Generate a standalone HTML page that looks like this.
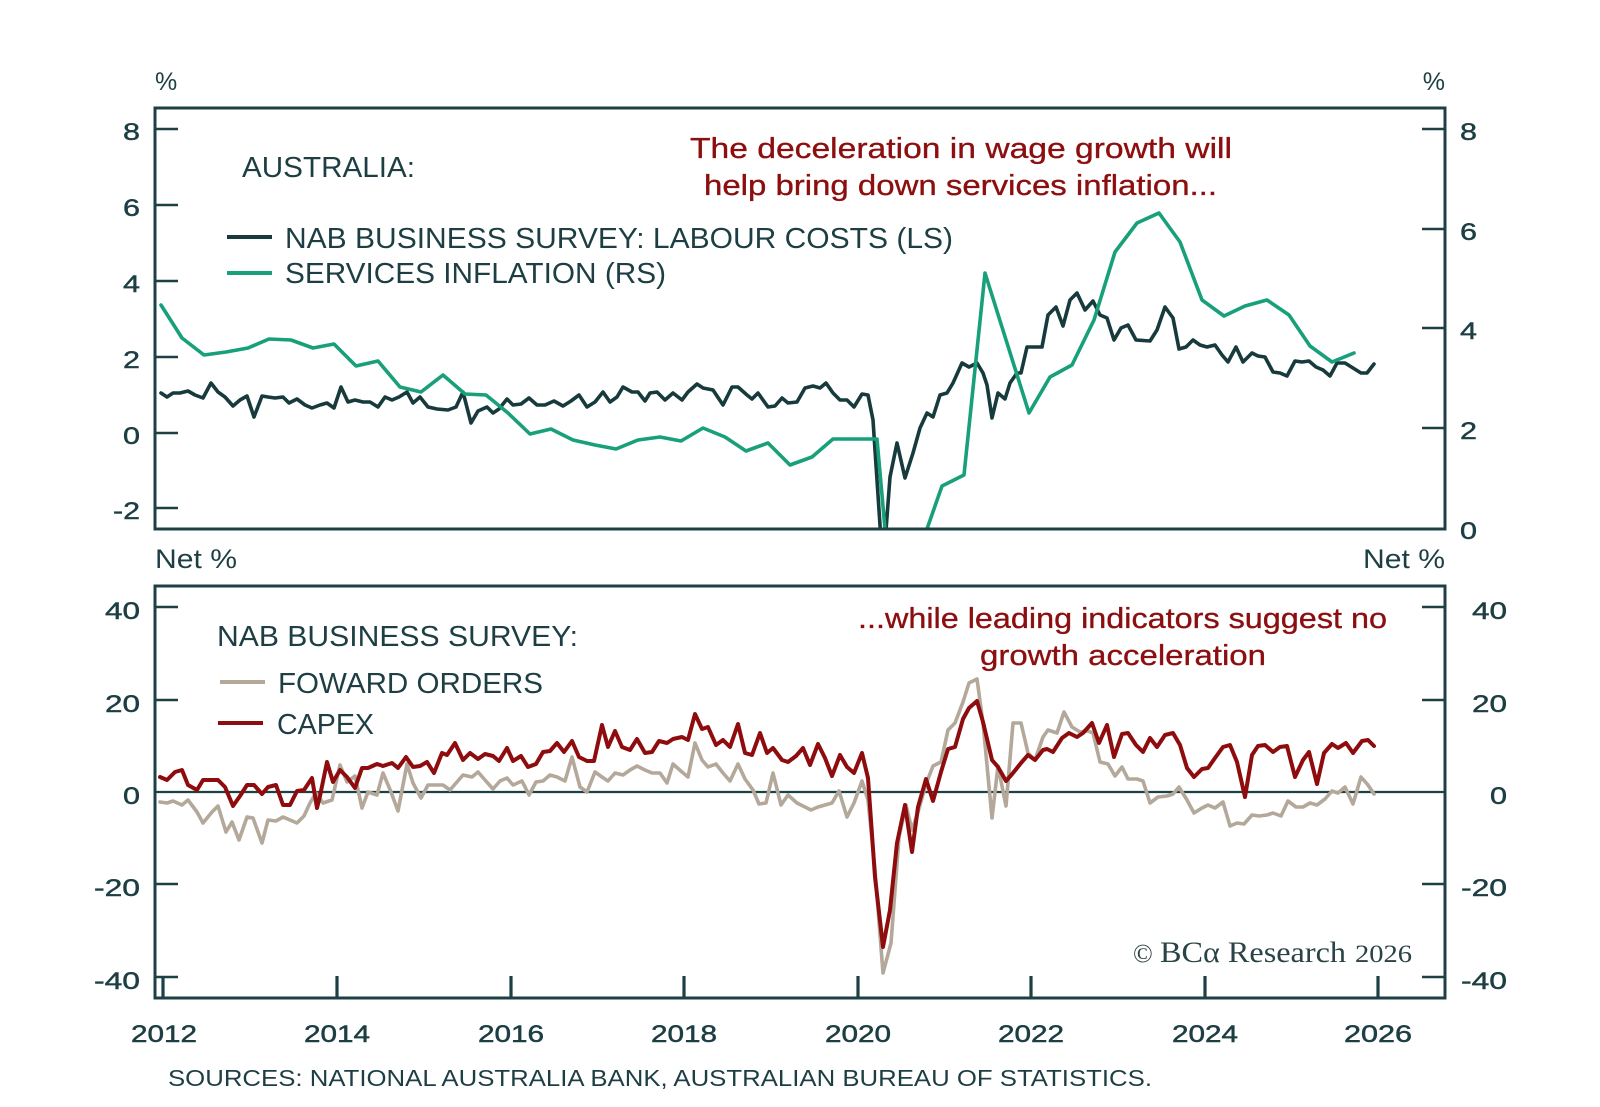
<!DOCTYPE html>
<html>
<head>
<meta charset="utf-8">
<style>
  html,body{margin:0;padding:0;background:#fff;}
  svg{display:block;}
  text{font-family:"Liberation Sans",Arial,sans-serif;fill:#1d3f43;}
  .tick{font-size:24px;stroke:#1d3f43;stroke-width:0.45;}
  .yr{font-size:24px;stroke:#1d3f43;stroke-width:0.5;}
  .leg{font-size:29px;}
  .ann{font-size:29px;fill:#8c0f10;stroke:#8c0f10;stroke-width:0.35;}
</style>
</head>
<body>
<svg width="1600" height="1107" viewBox="0 0 1600 1107" xmlns="http://www.w3.org/2000/svg">
<defs>
  <clipPath id="cTop"><rect x="155" y="108" width="1290" height="421"/></clipPath>
  <clipPath id="cBot"><rect x="155" y="586" width="1290" height="412"/></clipPath>
</defs>
<rect width="1600" height="1107" fill="#fff"/>

<!-- ===== TOP PANEL ===== -->
<text x="155" y="90" style="font-size:25px">%</text>
<text x="1445" y="90" text-anchor="end" style="font-size:25px">%</text>

<g stroke="#1d4045" stroke-width="2.5">
  <line x1="155" y1="129" x2="178" y2="129"/>
  <line x1="155" y1="205" x2="178" y2="205"/>
  <line x1="155" y1="281" x2="178" y2="281"/>
  <line x1="155" y1="357" x2="178" y2="357"/>
  <line x1="155" y1="433" x2="178" y2="433"/>
  <line x1="155" y1="508" x2="178" y2="508"/>
  <line x1="1422" y1="129" x2="1445" y2="129"/>
  <line x1="1422" y1="229" x2="1445" y2="229"/>
  <line x1="1422" y1="328" x2="1445" y2="328"/>
  <line x1="1422" y1="428" x2="1445" y2="428"/>
  <line x1="1422" y1="529" x2="1445" y2="529"/>
</g>
<g class="tick">
  <text x="123" y="140" textLength="17" lengthAdjust="spacingAndGlyphs">8</text>
  <text x="123" y="216" textLength="17" lengthAdjust="spacingAndGlyphs">6</text>
  <text x="123" y="292" textLength="17" lengthAdjust="spacingAndGlyphs">4</text>
  <text x="123" y="368" textLength="17" lengthAdjust="spacingAndGlyphs">2</text>
  <text x="123" y="444" textLength="17" lengthAdjust="spacingAndGlyphs">0</text>
  <text x="113" y="519" textLength="27" lengthAdjust="spacingAndGlyphs">-2</text>
</g>
<g class="tick">
  <text x="1460" y="140" textLength="17" lengthAdjust="spacingAndGlyphs">8</text>
  <text x="1460" y="240" textLength="17" lengthAdjust="spacingAndGlyphs">6</text>
  <text x="1460" y="339" textLength="17" lengthAdjust="spacingAndGlyphs">4</text>
  <text x="1460" y="439" textLength="17" lengthAdjust="spacingAndGlyphs">2</text>
  <text x="1460" y="539" textLength="17" lengthAdjust="spacingAndGlyphs">0</text>
</g>

<g clip-path="url(#cTop)" fill="none" stroke-linejoin="round" stroke-linecap="round">
  <polyline stroke="#173a3d" stroke-width="3.6" points="161,393 167,397 173,393 180,393 188,391 195,395 203,398 211,383 218,392 225,397 233,406 240,400 247,396 254,417 262,396 268,397 275,398 283,397 289,403 297,399 305,405 312,408 320,405 327,403 334,408 341,387 348,402 355,400 363,402 370,402 378,407 385,397 392,400 399,397 407,392 413,403 420,397 428,407 437,409 448,410 456,407 463,392 471,423 478,411 487,407 493,413 499,409 507,399 513,405 521,404 529,398 537,405 545,405 554,401 563,406 571,401 579,395 587,407 595,402 603,392 610,402 617,397 623,387 632,392 638,392 645,401 650,393 657,392 665,400 673,393 682,400 688,392 697,384 703,388 713,390 723,405 732,387 738,387 747,395 752,399 758,393 768,407 775,406 782,398 788,403 797,402 805,388 813,386 820,388 826,383 833,393 840,400 847,400 854,407 862,394 868,395 873,420 883,570 890,477 897,443 905,478 913,453 920,428 927,413 933,417 940,395 947,393 953,383 962,363 969,367 977,363 983,373 987,385 992,418 998,393 1005,399 1010,383 1017,373 1021,373 1027,347 1033,347 1042,347 1048,315 1056,307 1063,326 1070,300 1077,293 1085,310 1093,301 1100,315 1107,318 1114,340 1121,328 1128,325 1136,340 1150,341 1157,330 1165,307 1173,318 1179,349 1186,347 1193,340 1200,345 1207,347 1215,345 1222,355 1228,362 1236,347 1243,362 1252,353 1258,356 1265,357 1273,372 1280,373 1287,376 1295,361 1302,362 1309,361 1316,367 1323,370 1330,376 1337,363 1345,363 1353,368 1361,373 1367,373 1374,364"/>
  <polyline stroke="#17a07a" stroke-width="3.6" points="161,305 182,338 204,355 226,352 248,348 269,339 291,340 313,348 334,344 356,366 378,361 400,387 421,392 443,375 465,394 486,395 508,413 530,434 551,429 573,440 595,445 616,449 638,440 660,437 681,441 703,428 725,437 746,451 768,443 790,465 812,457 833,439 855,439 877,439 898,675 920,549 942,486 964,475 985,273 1007,343 1029,413 1050,377 1072,365 1094,320 1115,252 1137,223 1159,213 1180,242 1202,300 1224,316 1245,306 1267,300 1289,315 1310,346 1332,362 1354,353"/>
</g>
<rect x="155" y="108" width="1290" height="421" fill="none" stroke="#1d4045" stroke-width="3"/>

<!-- legend top -->
<text class="leg" x="242" y="177" textLength="173" lengthAdjust="spacingAndGlyphs">AUSTRALIA:</text>
<line x1="227" y1="237" x2="272" y2="237" stroke="#173a3d" stroke-width="4"/>
<text class="leg" x="285" y="248" textLength="668" lengthAdjust="spacingAndGlyphs">NAB BUSINESS SURVEY: LABOUR COSTS (LS)</text>
<line x1="227" y1="273" x2="272" y2="273" stroke="#17a07a" stroke-width="4"/>
<text class="leg" x="285" y="283" textLength="381" lengthAdjust="spacingAndGlyphs">SERVICES INFLATION (RS)</text>

<text class="ann" x="690" y="158" textLength="542" lengthAdjust="spacingAndGlyphs">The deceleration in wage growth will</text>
<text class="ann" x="704" y="195" textLength="513" lengthAdjust="spacingAndGlyphs">help bring down services inflation...</text>

<!-- ===== LOWER PANEL ===== -->
<text x="155" y="568" style="font-size:27px" textLength="82" lengthAdjust="spacingAndGlyphs">Net %</text>
<text x="1363" y="568" style="font-size:27px" textLength="82" lengthAdjust="spacingAndGlyphs">Net %</text>

<g stroke="#1d4045" stroke-width="2.5">
  <line x1="155" y1="607" x2="178" y2="607"/>
  <line x1="155" y1="700" x2="178" y2="700"/>
  <line x1="155" y1="884" x2="178" y2="884"/>
  <line x1="155" y1="977" x2="178" y2="977"/>
  <line x1="1422" y1="607" x2="1445" y2="607"/>
  <line x1="1422" y1="700" x2="1445" y2="700"/>
  <line x1="1422" y1="884" x2="1445" y2="884"/>
  <line x1="1422" y1="977" x2="1445" y2="977"/>
</g>
<g stroke="#1d4045" stroke-width="3.2">
  <line x1="163" y1="976" x2="163" y2="998"/>
  <line x1="337" y1="976" x2="337" y2="998"/>
  <line x1="511" y1="976" x2="511" y2="998"/>
  <line x1="684" y1="976" x2="684" y2="998"/>
  <line x1="858" y1="976" x2="858" y2="998"/>
  <line x1="1031" y1="976" x2="1031" y2="998"/>
  <line x1="1205" y1="976" x2="1205" y2="998"/>
  <line x1="1378" y1="976" x2="1378" y2="998"/>
</g>
<line x1="155" y1="792" x2="1445" y2="792" stroke="#1d4045" stroke-width="2.2"/>

<g class="tick">
  <text x="105" y="619" textLength="35" lengthAdjust="spacingAndGlyphs">40</text>
  <text x="105" y="712" textLength="35" lengthAdjust="spacingAndGlyphs">20</text>
  <text x="123" y="804" textLength="17" lengthAdjust="spacingAndGlyphs">0</text>
  <text x="94" y="896" textLength="46" lengthAdjust="spacingAndGlyphs">-20</text>
  <text x="94" y="989" textLength="46" lengthAdjust="spacingAndGlyphs">-40</text>
  <text x="1472" y="619" textLength="35" lengthAdjust="spacingAndGlyphs">40</text>
  <text x="1472" y="712" textLength="35" lengthAdjust="spacingAndGlyphs">20</text>
  <text x="1490" y="804" textLength="17" lengthAdjust="spacingAndGlyphs">0</text>
  <text x="1461" y="896" textLength="46" lengthAdjust="spacingAndGlyphs">-20</text>
  <text x="1461" y="989" textLength="46" lengthAdjust="spacingAndGlyphs">-40</text>
</g>

<g clip-path="url(#cBot)" fill="none" stroke-linejoin="round" stroke-linecap="round">
  <polyline stroke="#b3a899" stroke-width="3.6" points="160,802 167,803 173,801 182,805 188,800 197,812 203,823 212,812 218,806 226,832 232,822 239,840 247,817 253,818 262,843 268,820 276,821 283,817 290,820 297,823 304,816 310,803 316,793 323,803 332,800 340,765 347,782 355,776 362,808 368,792 377,795 383,773 391,792 398,811 407,764 413,783 421,798 428,785 443,785 450,790 463,775 472,777 478,772 485,780 493,789 500,781 507,778 513,785 522,781 529,795 536,782 543,781 550,775 557,777 565,781 572,757 580,787 587,792 595,772 602,777 608,781 615,773 623,775 630,770 637,766 645,770 652,773 660,773 667,783 673,764 682,772 688,777 695,743 702,760 708,767 716,764 723,773 730,781 738,764 745,779 753,790 759,804 766,803 773,773 781,805 788,795 797,803 811,810 818,807 832,803 839,791 847,817 854,803 862,781 868,800 875,870 883,973 891,943 899,837 906,805 912,830 918,812 926,784 933,766 941,762 948,730 955,723 963,702 969,683 977,679 983,723 992,818 998,766 1006,806 1013,723 1021,723 1028,753 1035,760 1043,737 1048,730 1057,733 1064,712 1072,727 1080,732 1088,731 1093,733 1100,762 1108,764 1115,776 1122,767 1128,779 1137,779 1143,781 1150,803 1158,797 1167,796 1173,794 1179,787 1187,800 1194,813 1202,808 1208,805 1215,808 1223,802 1230,826 1237,823 1244,824 1252,815 1259,816 1267,815 1273,813 1281,816 1288,801 1296,807 1303,807 1310,803 1317,805 1325,799 1332,791 1338,793 1345,787 1353,804 1361,777 1368,785 1374,794"/>
  <polyline stroke="#8e0c0e" stroke-width="4" points="160,777 167,780 175,772 182,770 188,785 197,790 203,780 218,780 225,787 233,806 240,796 247,785 254,785 262,794 268,787 276,785 283,805 290,805 297,791 304,790 312,778 317,808 320,796 327,762 333,782 340,770 347,777 355,788 362,768 368,768 377,764 383,766 392,763 398,768 406,757 413,767 420,766 427,762 434,773 442,753 447,755 455,743 463,760 470,753 478,759 485,754 493,756 499,761 507,748 513,761 521,756 528,767 536,764 543,752 550,751 557,743 564,752 572,741 579,757 587,761 594,761 602,725 608,747 615,731 622,747 630,750 637,739 645,753 652,752 659,741 667,743 673,739 682,737 688,740 695,714 702,729 708,727 716,745 723,740 730,747 738,724 745,753 752,755 760,733 767,753 773,748 782,760 788,762 796,756 803,748 810,765 818,744 825,758 832,776 840,755 847,767 854,773 862,753 868,778 875,877 883,947 890,910 897,843 905,805 912,852 918,807 926,779 933,801 941,772 948,749 955,747 963,719 969,708 977,701 983,722 992,760 998,767 1006,781 1013,773 1021,763 1028,755 1035,760 1043,750 1047,749 1053,752 1062,738 1069,733 1077,737 1083,733 1092,723 1099,743 1107,725 1114,757 1122,734 1128,733 1136,745 1143,752 1150,738 1157,747 1165,735 1173,733 1180,745 1187,768 1194,777 1202,769 1208,768 1215,758 1223,747 1230,745 1237,762 1245,797 1252,755 1258,746 1265,745 1273,752 1280,747 1287,746 1295,777 1303,760 1309,752 1317,784 1324,753 1332,744 1338,748 1346,743 1353,753 1362,741 1368,740 1374,746"/>
</g>
<rect x="155" y="586" width="1290" height="412" fill="none" stroke="#1d4045" stroke-width="3"/>

<!-- legend lower -->
<text class="leg" x="217" y="646" textLength="361" lengthAdjust="spacingAndGlyphs">NAB BUSINESS SURVEY:</text>
<line x1="220" y1="682" x2="265" y2="682" stroke="#b3a899" stroke-width="4"/>
<text class="leg" x="278" y="693" textLength="265" lengthAdjust="spacingAndGlyphs">FOWARD ORDERS</text>
<line x1="218" y1="723" x2="263" y2="723" stroke="#8e0c0e" stroke-width="4"/>
<text class="leg" x="277" y="734" textLength="97" lengthAdjust="spacingAndGlyphs">CAPEX</text>

<text class="ann" x="858" y="628" textLength="529" lengthAdjust="spacingAndGlyphs">...while leading indicators suggest no</text>
<text class="ann" x="980" y="665" textLength="286" lengthAdjust="spacingAndGlyphs">growth acceleration</text>

<!-- copyright -->
<text y="962" style="font-family:'Liberation Serif',serif;fill:#2a4346;">
  <tspan x="1133" style="font-size:26px">©</tspan>
  <tspan x="1160" style="font-size:30px" textLength="186" lengthAdjust="spacingAndGlyphs">BCα Research</tspan>
  <tspan x="1355" style="font-size:25px" textLength="57" lengthAdjust="spacingAndGlyphs">2026</tspan>
</text>

<!-- years -->
<g class="yr" text-anchor="middle">
  <text x="164" y="1042" textLength="66" lengthAdjust="spacingAndGlyphs">2012</text>
  <text x="337" y="1042" textLength="66" lengthAdjust="spacingAndGlyphs">2014</text>
  <text x="511" y="1042" textLength="66" lengthAdjust="spacingAndGlyphs">2016</text>
  <text x="684" y="1042" textLength="66" lengthAdjust="spacingAndGlyphs">2018</text>
  <text x="858" y="1042" textLength="66" lengthAdjust="spacingAndGlyphs">2020</text>
  <text x="1031" y="1042" textLength="66" lengthAdjust="spacingAndGlyphs">2022</text>
  <text x="1205" y="1042" textLength="66" lengthAdjust="spacingAndGlyphs">2024</text>
  <text x="1378" y="1042" textLength="68" lengthAdjust="spacingAndGlyphs">2026</text>
</g>

<text x="168" y="1086" style="font-size:23px" textLength="984" lengthAdjust="spacingAndGlyphs">SOURCES: NATIONAL AUSTRALIA BANK, AUSTRALIAN BUREAU OF STATISTICS.</text>
</svg>
</body>
</html>
